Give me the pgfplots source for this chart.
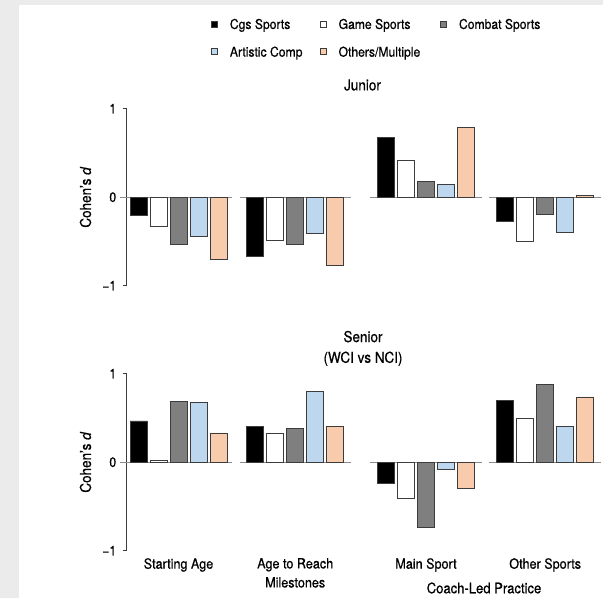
\documentclass[border=0pt]{standalone}
\usepackage{fontspec}
\setmainfont{TeX Gyre Heros}[FakeStretch=0.9, FakeBold=0.6]
\usepackage{pgfplots}
\pgfplotsset{compat=1.18}
\definecolor{bgframe}{HTML}{EBEBEB}
\definecolor{edge}{HTML}{3C3C3C}
\definecolor{zline}{HTML}{8C8C8C}
\definecolor{ccgs}{HTML}{000000}
\definecolor{cgame}{HTML}{FFFFFF}
\definecolor{ccombat}{HTML}{7F7F7F}
\definecolor{cart}{HTML}{BDD7EE}
\definecolor{cother}{HTML}{F8CBAD}
\pgfplotsset{
  panel/.style={
    scale only axis, x=1pt, y=88.5pt,
    xmin=126.7, xmax=603, ymin=-1, ymax=1, clip=false,
    axis y line=left, axis x line=bottom, axis line style={-, draw=edge, line width=0.8pt},
    x axis line style={draw=none},
    xtick style={draw=none},
    ytick={-1,0,1}, yticklabels={−1,0,1},
    ytick style={draw=edge, line width=0.8pt},
    tick align=outside, major tick length=4pt,
    /pgf/number format/assume math mode=true,
    yticklabel style={xshift=-3pt, font=\fontsize{13.5}{16}\selectfont},
    every axis y label/.style={at={(axis description cs:-0.0865,0.5)}, rotate=90, anchor=center, font=\fontsize{15}{17}\selectfont},
    ylabel={Cohen’s \textit{d}},
  },
  mybar/.style={ybar, bar width=17pt, draw=edge, line width=0.8pt,
    legend image code/.code={\draw[##1,/tikz/.cd,line width=0.8pt] (0pt,-3pt) rectangle (6pt,3pt); \path[draw=none,fill=none] (0pt,0pt) -- (18.6pt,0pt);}},
  zl/.style={zline, line width=1.2pt, forget plot},
}
\begin{document}
\begin{tikzpicture}
\fill[bgframe] (0pt,0pt) rectangle (603pt,598pt);
\fill[white] (19pt,0pt) rectangle (603pt,593pt);
\useasboundingbox (0pt,0pt) rectangle (603pt,598pt);
% ---------------- Junior ----------------
\begin{axis}[panel, at={(126.7pt,312.3pt)}, anchor=south west,
  xtick=\empty,
  legend columns=3,
  legend cell align=left,
  legend style={at={(0.17636,1.5054)}, anchor=north west, draw=none, fill=none,
    inner sep=0pt, row sep=18.2pt, column sep=0pt,
    nodes={inner sep=0pt, text height=9.5pt, text depth=0pt, font=\fontsize{13.5}{15}\selectfont},
    cells={anchor=west}},
]
\addplot[zl] coordinates {(120,0) (232,0)};
\addplot[zl] coordinates {(240,0) (351,0)};
\addplot[zl] coordinates {(370,0) (482,0)};
\addplot[zl] coordinates {(489,0) (601,0)};
\addplot[mybar, bar shift=-40pt, fill=ccgs] coordinates {(178.5,-0.21) (295.2,-0.67) (426,0.68) (545.2,-0.275)};
\addlegendentry{\makebox[89.7pt][l]{Cgs Sports}}
\addplot[mybar, bar shift=-20pt, fill=cgame] coordinates {(178.5,-0.33) (295.2,-0.49) (426,0.415) (545.2,-0.505)};
\addlegendentry{\makebox[101.4pt][l]{Game Sports}}
\addplot[mybar, bar shift=0pt, fill=ccombat] coordinates {(178.5,-0.53) (295.2,-0.53) (426,0.18) (545.2,-0.196)};
\addlegendentry{Combat Sports}
\addplot[mybar, bar shift=20pt, fill=cart] coordinates {(178.5,-0.445) (295.2,-0.41) (426,0.14) (545.2,-0.40)};
\addlegendentry{\makebox[89.7pt][l]{Artistic Comp}}
\addplot[mybar, bar shift=40pt, fill=cother] coordinates {(178.5,-0.70) (295.2,-0.77) (426,0.785) (545.2,0.02)};
\addlegendentry{\makebox[101.4pt][l]{Others/Multiple}}
\end{axis}
% ---------------- Senior ----------------
\begin{axis}[panel, at={(126.7pt,47.3pt)}, anchor=south west,
  xtick={178.5,295.2,426,545.2},
  xticklabels={Starting Age,{Age to Reach\\Milestones},Main Sport,Other Sports},
  xticklabel style={align=center, font=\fontsize{14}{19}\selectfont},
  xlabel={Coach-Led Practice},
  xlabel style={at={(axis description cs:0.7502,-0.2107)}, anchor=center, font=\fontsize{14.5}{17}\selectfont},
]
\addplot[zl] coordinates {(120,0) (232,0)};
\addplot[zl] coordinates {(240,0) (351,0)};
\addplot[zl] coordinates {(370,0) (482,0)};
\addplot[zl] coordinates {(489,0) (601,0)};
\addplot[mybar, bar shift=-40pt, fill=ccgs] coordinates {(178.5,0.466) (295.2,0.406) (426,-0.237) (545.2,0.70)};
\addplot[mybar, bar shift=-20pt, fill=cgame] coordinates {(178.5,0.023) (295.2,0.327) (426,-0.414) (545.2,0.49)};
\addplot[mybar, bar shift=0pt, fill=ccombat] coordinates {(178.5,0.69) (295.2,0.38) (426,-0.74) (545.2,0.876)};
\addplot[mybar, bar shift=20pt, fill=cart] coordinates {(178.5,0.677) (295.2,0.797) (426,-0.079) (545.2,0.406)};
\addplot[mybar, bar shift=40pt, fill=cother] coordinates {(178.5,0.33) (295.2,0.40) (426,-0.30) (545.2,0.737)};
\end{axis}
\node[font=\fontsize{15}{17}\selectfont] at (362.5pt,513pt) {Junior};
\node[font=\fontsize{15}{20.7}\selectfont, align=center] at (363pt,249.6pt) {Senior\\(WCI vs NCI)};
\end{tikzpicture}
\end{document}
